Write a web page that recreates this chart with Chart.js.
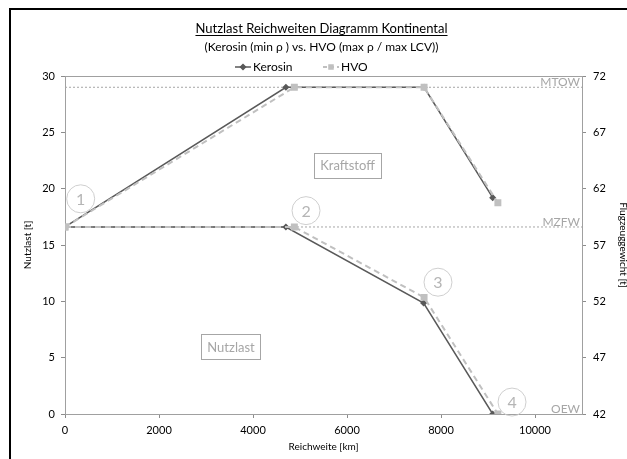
<!DOCTYPE html>
<html>
<head>
<meta charset="utf-8">
<script src="https://cdn.jsdelivr.net/npm/chart.js@4.4.1/dist/chart.umd.min.js"></script>
<style>
body { margin: 0; background: #fff; overflow: hidden; }
#wrap { position: relative; width: 627px; height: 459px; }
#frame { position: absolute; left: 9px; top: 8px; width: 700px; height: 500px; border: 2px solid #000; pointer-events: none; }
</style>
</head>
<body>
<div id="wrap">
  <canvas id="prChart" width="627" height="459"></canvas>
  <div id="frame"></div>
</div>
<script>
// Werte (Reichweite km / Nutzlast t)
const kerosinRangeTop = [0, 4700, 7640, 9100];
const kerosinLoadTop = [16.6, 29, 29, 19.2];
const kerosinRangeLow = [0, 4700, 7630, 9100];
const kerosinLoadLow = [16.6, 16.6, 9.85, 0];

const hvoRangeTop = [0, 4880, 7640, 9210];
const hvoLoadTop = [16.6, 29, 29, 18.75];
const hvoRangeLow = [0, 4880, 7640, 9210];
const hvoLoadLow = [16.6, 16.6, 10.35, 0];

const mtow = 29;
const mzfw = 16.6;
const rangeLimit = [0, 11000];

const rangeTicks = [0, 2000, 4000, 6000, 8000, 10000];
const loadTicks = [0, 5, 10, 15, 20, 25, 30];
const weightTicks = [42, 47, 52, 57, 62, 67, 72];

const titleText = 'Nutzlast Reichweiten Diagramm Kontinental';
const subTitleText = '(Kerosin (min \u03C1 ) vs. HVO (max \u03C1 / max LCV))';

// Beschriftungen im Diagramm (Position in Achsenwerten)
const circleNotes = [
    { text: '1', x: 334, y: 19.1 },
    { text: '2', x: 5128, y: 18.05 },
    { text: '3', x: 7936, y: 11.7 },
    { text: '4', x: 9511, y: 1.06 }
];
const boxNotes = [
    { text: 'Kraftstoff', x: 6011, y: 22.1 },
    { text: 'Nutzlast', x: 3532, y: 5.97 }
];
const limitNotes = [
    { text: 'MTOW', y: mtow },
    { text: 'MZFW', y: mzfw },
    { text: 'OEW', y: 0 }
];

Chart.defaults.font.family = 'Lato';
Chart.defaults.color = '#000';

function toPoints(xa, ya, xb, yb) {
    const pts = xa.map((x, i) => ({ x, y: ya[i] }));
    pts.push({ x: xa[xa.length - 1], y: null });
    xb.forEach((x, i) => pts.push({ x, y: yb[i] }));
    return pts;
}

function fixTicks(values) {
    return scale => { scale.ticks = values.map(v => ({ value: v })); };
}

const decor = {
    id: 'decor',
    beforeDatasetsDraw(chart) {
        const { ctx, chartArea: a } = chart;
        ctx.save();
        ctx.strokeStyle = '#a0a0a0';
        ctx.lineWidth = 1;
        ctx.strokeRect(a.left + 0.5, a.top + 0.5, a.right - a.left, a.bottom - a.top);
        ctx.restore();
    },
    afterDraw(chart) {
        const { ctx, chartArea: a } = chart;
        const xs = chart.scales.x, ys = chart.scales.y;
        ctx.save();

        // Unterstrich Titel
        ctx.font = '13px Lato';
        const tw = ctx.measureText(titleText).width;
        const tb = chart.titleBlock;
        const cx = (tb.left + tb.right) / 2;
        ctx.strokeStyle = '#000';
        ctx.lineWidth = 1;
        ctx.beginPath();
        ctx.moveTo(cx - tw / 2, 35.5);
        ctx.lineTo(cx + tw / 2, 35.5);
        ctx.stroke();

        // Legende
        ctx.font = '12px Lato';
        ctx.textBaseline = 'middle';
        ctx.textAlign = 'left';
        const ly = 67;
        const items = [
            { ds: chart.data.datasets[0], x: 235, r: 2.5 },
            { ds: chart.data.datasets[1], x: 323, r: 2.5 }
        ];
        items.forEach(it => {
            const ds = it.ds;
            ctx.strokeStyle = ds.borderColor;
            ctx.lineWidth = ds.borderWidth;
            ctx.setLineDash(ds.borderDash ? [4, 3] : []);
            ctx.beginPath();
            ctx.moveTo(it.x, ly);
            ctx.lineTo(it.x + 16, ly);
            ctx.stroke();
            ctx.setLineDash([]);
            ctx.fillStyle = ds.pointBackgroundColor;
            ctx.strokeStyle = ds.pointBackgroundColor;
            Chart.helpers.drawPoint(ctx, { pointStyle: ds.pointStyle, radius: it.r, borderWidth: 1 }, it.x + 8, ly);
            ctx.fillStyle = '#000';
            ctx.fillText(ds.label, it.x + 18, ly);
        });

        // Grenzlinien Beschriftung
        ctx.font = '12px Lato';
        ctx.fillStyle = '#a6a6a6';
        ctx.textAlign = 'right';
        ctx.textBaseline = 'bottom';
        limitNotes.forEach(n => {
            ctx.fillText(n.text, a.right - 2, ys.getPixelForValue(n.y) + 1);
        });

        // Kreise
        ctx.textAlign = 'center';
        ctx.textBaseline = 'middle';
        ctx.font = '16px Lato';
        circleNotes.forEach(n => {
            const px = xs.getPixelForValue(n.x), py = ys.getPixelForValue(n.y);
            ctx.strokeStyle = '#cfcfcf';
            ctx.lineWidth = 1;
            ctx.beginPath();
            ctx.arc(px, py, 14, 0, Math.PI * 2);
            ctx.stroke();
            ctx.fillStyle = '#b5b5b5';
            ctx.fillText(n.text, px, py + 1);
        });

        // Kaesten
        ctx.font = '13px Lato';
        boxNotes.forEach(n => {
            const px = xs.getPixelForValue(n.x), py = ys.getPixelForValue(n.y);
            const w = ctx.measureText(n.text).width + 12;
            ctx.fillStyle = '#fff';
            ctx.fillRect(px - w / 2, py - 12.5, w, 25);
            ctx.strokeStyle = '#a6a6a6';
            ctx.lineWidth = 1;
            ctx.strokeRect(Math.round(px - w / 2) + 0.5, Math.round(py - 12.5) + 0.5, Math.round(w), 25);
            ctx.fillStyle = '#a6a6a6';
            ctx.fillText(n.text, px, py + 1);
        });
        ctx.restore();
    }
};

const axisColor = '#8c8c8c';
const plainNumber = v => String(v);

new Chart(document.getElementById('prChart'), {
    type: 'line',
    data: {
        datasets: [
            {
                label: 'Kerosin',
                data: toPoints(kerosinRangeTop, kerosinLoadTop, kerosinRangeLow, kerosinLoadLow),
                borderColor: '#595959', borderWidth: 1.5,
                pointStyle: 'rectRot', pointRadius: 2.5, pointBackgroundColor: '#595959', pointBorderColor: '#595959',
                order: 2
            },
            {
                label: 'HVO',
                data: toPoints(hvoRangeTop, hvoLoadTop, hvoRangeLow, hvoLoadLow),
                borderColor: '#c0c0c0', borderWidth: 2, borderDash: [6, 4],
                pointStyle: 'rect', pointRadius: 3.5, pointBackgroundColor: '#c0c0c0', pointBorderColor: '#c0c0c0',
                order: 1
            },
            {
                label: 'MTOW',
                data: rangeLimit.map(x => ({ x, y: mtow })),
                borderColor: '#a6a6a6', borderWidth: 1, borderDash: [2, 2], pointRadius: 0, order: 3
            },
            {
                label: 'MZFW',
                data: rangeLimit.map(x => ({ x, y: mzfw })),
                borderColor: '#a6a6a6', borderWidth: 1, borderDash: [2, 2], pointRadius: 0, order: 3
            }
        ]
    },
    options: {
        responsive: false,
        animation: false,
        layout: { padding: { left: 16, right: 0, top: 0, bottom: 0 } },
        plugins: {
            legend: { display: false },
            tooltip: { enabled: false },
            title: {
                display: true, text: titleText, color: '#000',
                font: { size: 13, weight: 'normal' },
                padding: { top: 21, bottom: 3 }
            },
            subtitle: {
                display: true, text: subTitleText, color: '#000',
                font: { size: 12 },
                padding: { top: 0, bottom: 22 }
            }
        },
        scales: {
            x: {
                type: 'linear', min: rangeLimit[0], max: rangeLimit[1],
                afterBuildTicks: fixTicks(rangeTicks),
                afterFit: s => { s.height = 45; },
                grid: { drawOnChartArea: false, tickLength: 4, color: axisColor },
                border: { color: axisColor },
                ticks: { font: { size: 11 }, padding: 6, maxRotation: 0, callback: plainNumber },
                title: { display: true, text: 'Reichweite [km]', font: { size: 10 }, padding: { top: 0, bottom: 6 } }
            },
            y: {
                min: 0, max: 30,
                afterBuildTicks: fixTicks(loadTicks),
                afterFit: s => { s.width = 49; },
                grid: { drawOnChartArea: false, tickLength: 4, color: axisColor },
                border: { color: axisColor },
                ticks: { font: { size: 11 }, padding: 6, callback: plainNumber },
                title: { display: true, text: 'Nutzlast [t]', font: { size: 10 }, padding: { top: 6, bottom: 0 } }
            },
            y2: {
                position: 'right', min: 42, max: 72,
                afterBuildTicks: fixTicks(weightTicks),
                afterFit: s => { s.width = 45; },
                grid: { drawOnChartArea: false, tickLength: 4, color: axisColor },
                border: { color: axisColor },
                ticks: { font: { size: 11 }, padding: 7, callback: plainNumber },
                title: { display: true, text: 'Flugzeuggewicht [t]', font: { size: 10, lineHeight: 0.8 }, padding: 0 }
            }
        }
    },
    plugins: [decor]
});
</script>
</body>
</html>
